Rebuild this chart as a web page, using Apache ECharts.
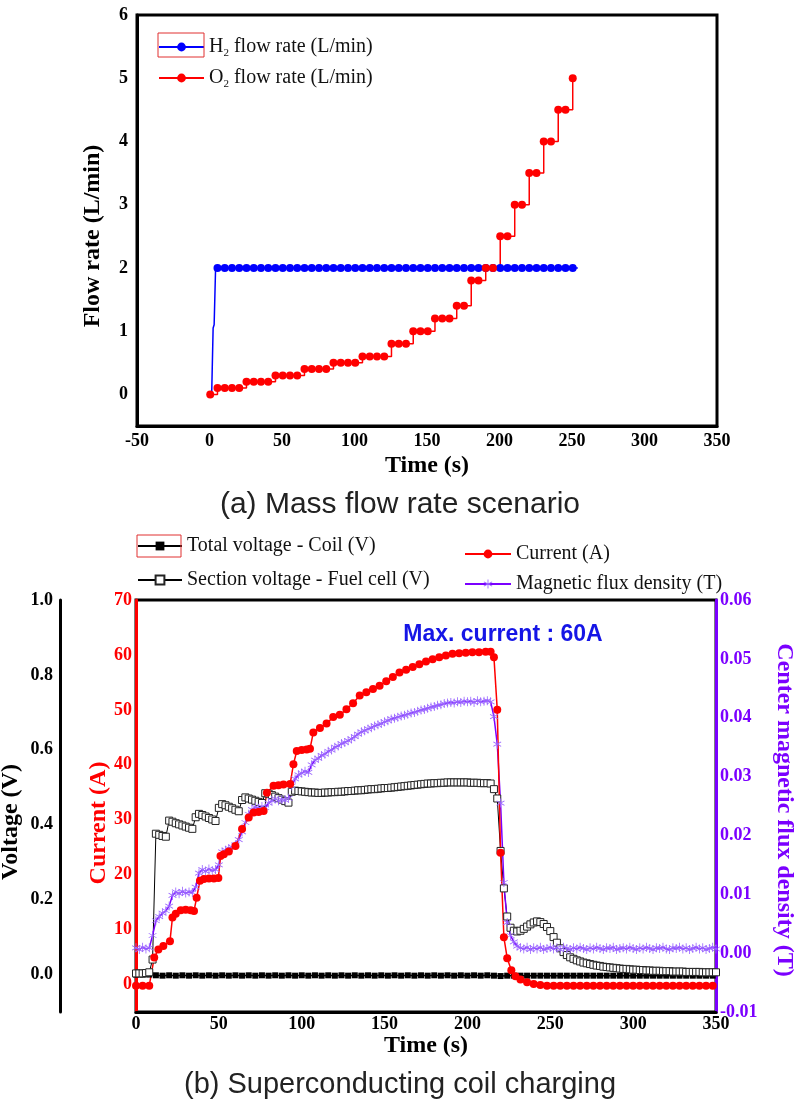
<!DOCTYPE html>
<html><head><meta charset="utf-8">
<script src="https://cdn.jsdelivr.net/npm/echarts@6/dist/echarts.min.js"></script>
<style>html,body{margin:0;padding:0;background:#fff}#c{width:800px;height:1108px}</style>
</head><body><div id="c"></div>
<script>
// ===== (a) Mass flow rate scenario =====
const flowXTicks = [-50, 0, 50, 100, 150, 200, 250, 300, 350];
const flowYTicks = [0, 1, 2, 3, 4, 5, 6];
const h2Time = [1.5, 2.5, 3.2, 4.2,
  5.5, 10.5, 15.5, 20.5, 25.5, 30.5, 35.5, 40.5, 45.5, 50.5,
  55.5, 60.5, 65.5, 70.5, 75.5, 80.5, 85.5, 90.5, 95.5, 100.5,
  105.5, 110.5, 115.5, 120.5, 125.5, 130.5, 135.5, 140.5, 145.5, 150.5,
  155.5, 160.5, 165.5, 170.5, 175.5, 180.5, 185.5, 190.5, 195.5, 200.5,
  205.5, 210.5, 215.5, 220.5, 225.5, 230.5, 235.5, 240.5, 245.5, 250.5,
  254];
const h2Flow = [0, 1.05, 1.1, 2,
  2, 2, 2, 2, 2, 2, 2, 2, 2, 2,
  2, 2, 2, 2, 2, 2, 2, 2, 2, 2,
  2, 2, 2, 2, 2, 2, 2, 2, 2, 2,
  2, 2, 2, 2, 2, 2, 2, 2, 2, 2,
  2, 2, 2, 2, 2, 2, 2, 2, 2, 2,
  2];
const o2Time = [0.5,
  5.5, 10.5, 15.5, 20.5, 25.5, 30.5, 35.5, 40.5, 45.5, 50.5,
  55.5, 60.5, 65.5, 70.5, 75.5, 80.5, 85.5, 90.5, 95.5, 100.5,
  105.5, 110.5, 115.5, 120.5, 125.5, 130.5, 135.5, 140.5, 145.5, 150.5,
  155.5, 160.5, 165.5, 170.5, 175.5, 180.5, 185.5, 190.5, 195.5, 200.5,
  205.5, 210.5, 215.5, 220.5, 225.5, 230.5, 235.5, 240.5, 245.5, 250.5];
const o2Flow = [0,
  0.1, 0.1, 0.1, 0.1, 0.2, 0.2, 0.2, 0.2, 0.3, 0.3,
  0.3, 0.3, 0.4, 0.4, 0.4, 0.4, 0.5, 0.5, 0.5, 0.5,
  0.6, 0.6, 0.6, 0.6, 0.8, 0.8, 0.8, 1.0, 1.0, 1.0,
  1.2, 1.2, 1.2, 1.4, 1.4, 1.8, 1.8, 2.0, 2.0, 2.5,
  2.5, 3.0, 3.0, 3.5, 3.5, 4.0, 4.0, 4.5, 4.5, 5.0];

// ===== (b) Superconducting coil charging =====
const coilXTicks = [0, 50, 100, 150, 200, 250, 300, 350];
const voltTicks = [0.0, 0.2, 0.4, 0.6, 0.8, 1.0];
const currentTicks = [0, 10, 20, 30, 40, 50, 60, 70];
const fluxTicks = [-0.01, 0.00, 0.01, 0.02, 0.03, 0.04, 0.05, 0.06];

// time base (s) for section voltage and flux density
const t2 = [0, 2, 4, 6, 8, 10, 12, 14, 16, 18,
  20, 22, 24, 26, 28, 30, 32, 34, 36, 38,
  40, 42, 44, 46, 48, 50, 52, 54, 56, 58,
  60, 62, 64, 66, 68, 70, 72, 74, 76, 78,
  80, 82, 84, 86, 88, 90, 92, 94, 96, 98,
  100, 102, 104, 106, 108, 110, 112, 114, 116, 118,
  120, 122, 124, 126, 128, 130, 132, 134, 136, 138,
  140, 142, 144, 146, 148, 150, 152, 154, 156, 158,
  160, 162, 164, 166, 168, 170, 172, 174, 176, 178,
  180, 182, 184, 186, 188, 190, 192, 194, 196, 198,
  200, 202, 204, 206, 208, 210, 212, 214, 216, 218,
  220, 222, 224, 226, 228, 230, 232, 234, 236, 238,
  240, 242, 244, 246, 248, 250, 252, 254, 256, 258,
  260, 262, 264, 266, 268, 270, 272, 274, 276, 278,
  280, 282, 284, 286, 288, 290, 292, 294, 296, 298,
  300, 302, 304, 306, 308, 310, 312, 314, 316, 318,
  320, 322, 324, 326, 328, 330, 332, 334, 336, 338,
  340, 342, 344, 346, 348, 350];
const sectionVoltage = [0.003, 0.003, 0.003, 0.004, 0.006, 0.040, 0.376, 0.373, 0.370, 0.368,
  0.411, 0.408, 0.404, 0.401, 0.398, 0.395, 0.392, 0.389, 0.420, 0.429,
  0.426, 0.422, 0.418, 0.414, 0.410, 0.445, 0.455, 0.452, 0.448, 0.444,
  0.440, 0.436, 0.466, 0.473, 0.470, 0.467, 0.464, 0.461, 0.458, 0.484,
  0.483, 0.479, 0.475, 0.471, 0.467, 0.463, 0.459, 0.488, 0.491, 0.490,
  0.489, 0.488, 0.487, 0.486, 0.486, 0.485, 0.485, 0.486, 0.486, 0.487,
  0.487, 0.488, 0.488, 0.489, 0.490, 0.490, 0.491, 0.492, 0.492, 0.493,
  0.494, 0.495, 0.495, 0.496, 0.497, 0.498, 0.498, 0.499, 0.500, 0.501,
  0.502, 0.503, 0.504, 0.505, 0.506, 0.507, 0.508, 0.509, 0.510, 0.510,
  0.511, 0.511, 0.512, 0.512, 0.513, 0.513, 0.513, 0.513, 0.513, 0.513,
  0.513, 0.512, 0.512, 0.512, 0.511, 0.511, 0.511, 0.510, 0.495, 0.470,
  0.330, 0.230, 0.155, 0.125, 0.117, 0.115, 0.117, 0.122, 0.128, 0.134,
  0.139, 0.142, 0.140, 0.135, 0.127, 0.116, 0.100, 0.085, 0.070, 0.060,
  0.052, 0.046, 0.042, 0.038, 0.035, 0.032, 0.030, 0.028, 0.026, 0.024,
  0.023, 0.021, 0.020, 0.019, 0.018, 0.017, 0.016, 0.015, 0.015, 0.014,
  0.013, 0.013, 0.012, 0.012, 0.011, 0.011, 0.010, 0.010, 0.010, 0.009,
  0.009, 0.009, 0.008, 0.008, 0.008, 0.008, 0.007, 0.007, 0.007, 0.007,
  0.007, 0.006, 0.006, 0.006, 0.006, 0.006];
const fluxDensity = [0.0009, 0.0006, 0.0010, 0.0007, 0.0009, 0.0030, 0.0055, 0.0062, 0.0068, 0.0072,
  0.0080, 0.0098, 0.0104, 0.0101, 0.0105, 0.0102, 0.0104, 0.0103, 0.0112, 0.0136,
  0.0142, 0.0139, 0.0143, 0.0140, 0.0142, 0.0150, 0.0172, 0.0175, 0.0178, 0.0180,
  0.0184, 0.0193, 0.0206, 0.0222, 0.0236, 0.0244, 0.0248, 0.0246, 0.0249, 0.0247,
  0.0255, 0.0259, 0.0262, 0.0259, 0.0261, 0.0260, 0.0263, 0.0284, 0.0296, 0.0303,
  0.0306, 0.0309, 0.0307, 0.0320, 0.0328, 0.0331, 0.0336, 0.0338, 0.0343, 0.0345,
  0.0350, 0.0352, 0.0356, 0.0358, 0.0361, 0.0364, 0.0368, 0.0372, 0.0376, 0.0378,
  0.0381, 0.0383, 0.0386, 0.0388, 0.0390, 0.0393, 0.0395, 0.0398, 0.0399, 0.0401,
  0.0403, 0.0404, 0.0406, 0.0408, 0.0409, 0.0411, 0.0413, 0.0414, 0.0416, 0.0418,
  0.0419, 0.0421, 0.0422, 0.0424, 0.0425, 0.0426, 0.0425, 0.0427, 0.0426, 0.0428,
  0.0427, 0.0428, 0.0426, 0.0429, 0.0427, 0.0428, 0.0429, 0.0427, 0.0402, 0.0355,
  0.0255, 0.0120, 0.0052, 0.0030, 0.0019, 0.0012, 0.0009, 0.0007, 0.0010, 0.0006,
  0.0009, 0.0007, 0.0010, 0.0006, 0.0008, 0.0010, 0.0007, 0.0009, 0.0006, 0.0010,
  0.0008, 0.0006, 0.0009, 0.0007, 0.0010, 0.0008, 0.0006, 0.0009, 0.0007, 0.0010,
  0.0008, 0.0006, 0.0009, 0.0008, 0.0010, 0.0006, 0.0008, 0.0009, 0.0007, 0.0010,
  0.0008, 0.0006, 0.0009, 0.0007, 0.0010, 0.0008, 0.0006, 0.0009, 0.0008, 0.0010,
  0.0007, 0.0006, 0.0009, 0.0008, 0.0010, 0.0007, 0.0009, 0.0006, 0.0008, 0.0010,
  0.0007, 0.0009, 0.0006, 0.0008, 0.0010, 0.0007];
// time base (s) for total coil voltage
const t4 = [0, 4, 8, 12, 16, 20, 24, 28, 32, 36,
  40, 44, 48, 52, 56, 60, 64, 68, 72, 76,
  80, 84, 88, 92, 96, 100, 104, 108, 112, 116,
  120, 124, 128, 132, 136, 140, 144, 148, 152, 156,
  160, 164, 168, 172, 176, 180, 184, 188, 192, 196,
  200, 204, 208, 212, 216, 220, 224, 228, 232, 236,
  240, 244, 248, 252, 256, 260, 264, 268, 272, 276,
  280, 284, 288, 292, 296, 300, 304, 308, 312, 316,
  320, 324, 328, 332, 336, 340, 344, 348];
const totalVoltage = [0.000, 0.000, 0.000, -0.002, -0.003, -0.002, -0.003, -0.002, -0.003, -0.002,
  -0.003, -0.002, -0.003, -0.002, -0.003, -0.002, -0.003, -0.002, -0.003, -0.002,
  -0.003, -0.002, -0.003, -0.002, -0.003, -0.002, -0.003, -0.002, -0.003, -0.002,
  -0.003, -0.002, -0.003, -0.002, -0.003, -0.002, -0.003, -0.002, -0.003, -0.002,
  -0.003, -0.002, -0.003, -0.002, -0.003, -0.002, -0.003, -0.002, -0.003, -0.002,
  -0.003, -0.002, -0.003, -0.002, -0.003, -0.004, -0.003, -0.003, -0.003, -0.003,
  -0.003, -0.003, -0.003, -0.003, -0.003, -0.003, -0.003, -0.003, -0.003, -0.003,
  -0.003, -0.003, -0.003, -0.003, -0.003, -0.003, -0.003, -0.003, -0.003, -0.003,
  -0.003, -0.003, -0.003, -0.003, -0.003, -0.003, -0.003, -0.003];
const currentTime = [0, 4, 8, 11, 13.5, 16.5, 20.5, 22, 24, 27,
  30, 33, 35, 36.6, 38.6, 41, 44, 47, 49.7, 51,
  53, 56, 60, 64, 68, 71, 74, 77, 79, 83,
  86, 89, 93, 95, 97, 100, 103, 105, 107, 111,
  115, 119, 123, 127, 131, 135, 139, 143, 147, 151,
  155, 159, 163, 167, 171, 175, 179, 183, 187, 191,
  195, 199, 203, 207, 211, 214, 216, 218, 220, 222,
  224, 226.5, 229, 232, 236, 240, 244, 248, 252, 256,
  260, 264, 268, 272, 276, 280, 284, 288, 292, 296,
  300, 304, 308, 312, 316, 320, 324, 328, 332, 336,
  340, 344, 348];
const currentA = [-0.2, -0.2, -0.2, 4.9, 6.4, 7.0, 7.9, 12.2, 12.9, 13.5,
  13.6, 13.5, 13.4, 15.8, 18.9, 19.2, 19.3, 19.3, 19.4, 23.4,
  23.7, 24.2, 25.2, 28.3, 30.4, 31.3, 31.4, 31.6, 34.9, 36.2,
  36.3, 36.4, 36.5, 40.1, 42.5, 42.7, 42.8, 42.9, 45.9, 46.7,
  47.5, 48.7, 49.1, 50.1, 51.2, 52.6, 53.2, 53.8, 54.4, 55.2,
  56.0, 56.8, 57.3, 57.8, 58.3, 58.8, 59.2, 59.6, 59.9, 60.2,
  60.3, 60.4, 60.5, 60.5, 60.6, 60.6, 59.6, 50.0, 24.0, 8.6,
  4.8, 2.6, 1.5, 0.9, 0.4, 0.1, -0.1, -0.2, -0.2, -0.2,
  -0.2, -0.2, -0.2, -0.2, -0.2, -0.2, -0.2, -0.2, -0.2, -0.2,
  -0.2, -0.2, -0.2, -0.2, -0.2, -0.2, -0.2, -0.2, -0.2, -0.2,
  -0.2, -0.2, -0.2];

// ===== build =====
const zip = (xs, ys) => xs.map((x, i) => [x, ys[i]]);
const SERIF = '"Liberation Serif", "Times New Roman", serif';
const SANS = '"Liberation Sans", Arial, sans-serif';
const PURPLE = '#7b00ff';
const RED = '#ff0000';
const near = (a, b) => Math.abs(a - b) < 1e-6;
const lbl = (color, margin) => ({ fontFamily: SERIF, fontWeight: 'bold', fontSize: 18, color: color, margin: margin });
const asterisk = 'path://M-0.9,-10L0.9,-10L0.9,10L-0.9,10Z M8.21,-5.78L9.11,-4.22L-8.21,5.78L-9.11,4.22Z M9.11,4.22L8.21,5.78L-9.11,-4.22L-8.21,-5.78Z';

const h2Data = h2Time.map((t, i) => (t < 5 || t > 252) ? { value: [t, h2Flow[i]], symbol: 'none' } : [t, h2Flow[i]]);

const chart = echarts.init(document.getElementById('c'), null, { renderer: 'canvas' });
chart.setOption({
  animation: false,
  backgroundColor: '#fff',
  grid: [
    { left: 137, top: 15, width: 580, height: 411, show: true, borderColor: '#000', borderWidth: 3, backgroundColor: 'transparent' },
    { left: 136, top: 600, width: 580, height: 412, show: true, borderColor: '#000', borderWidth: 3, backgroundColor: 'transparent' }
  ],
  xAxis: [
    { gridIndex: 0, type: 'value', min: flowXTicks[0], max: flowXTicks[flowXTicks.length - 1], interval: 50,
      axisLine: { onZero: false, lineStyle: { color: '#000', width: 3 } }, axisTick: { show: false }, splitLine: { show: false },
      axisLabel: lbl('#000', 6) },
    { gridIndex: 1, type: 'value', min: coilXTicks[0], max: coilXTicks[coilXTicks.length - 1], interval: 50,
      axisLine: { onZero: false, lineStyle: { color: '#000', width: 3 } }, axisTick: { show: false }, splitLine: { show: false },
      axisLabel: lbl('#000', 3) }
  ],
  yAxis: [
    { gridIndex: 0, type: 'value', min: -0.5, max: flowYTicks[flowYTicks.length - 1], interval: 0.5,
      axisLine: { onZero: false, lineStyle: { color: '#000', width: 3 } }, axisTick: { show: false }, splitLine: { show: false },
      axisLabel: Object.assign(lbl('#000', 9), { formatter: v => flowYTicks.some(t => near(t, v)) ? String(Math.round(v)) : '' }) },
    { gridIndex: 1, type: 'value', position: 'left', offset: 76, min: -0.1, max: 1.0, interval: 0.1,
      axisLine: { show: true, onZero: false, lineStyle: { color: '#000', width: 3 } }, axisTick: { show: false }, splitLine: { show: false },
      axisLabel: Object.assign(lbl('#000', 7), { formatter: v => voltTicks.some(t => near(t, v)) ? v.toFixed(1) : '' }) },
    { gridIndex: 1, type: 'value', position: 'left', min: -5, max: 70, interval: 5,
      axisLine: { show: true, onZero: false, lineStyle: { color: RED, width: 3 } }, axisTick: { show: false }, splitLine: { show: false },
      axisLabel: Object.assign(lbl(RED, 4), { formatter: v => currentTicks.some(t => near(t, v)) ? String(Math.round(v)) : '' }) },
    { gridIndex: 1, type: 'value', position: 'right', min: -0.01, max: 0.06, interval: 0.01,
      axisLine: { show: true, onZero: false, lineStyle: { color: PURPLE, width: 3 } }, axisTick: { show: false }, splitLine: { show: false },
      axisLabel: Object.assign(lbl(PURPLE, 4), { formatter: v => fluxTicks.some(t => near(t, v)) ? v.toFixed(2) : '' }) }
  ],
  legend: [
    { orient: 'vertical', left: 158, top: 37, padding: 0, itemWidth: 45, itemHeight: 11, itemGap: 9,
      data: ['H2 flow rate (L/min)', 'O2 flow rate (L/min)'],
      formatter: n => '{n|' + n[0] + '}{s|2}{n|' + n.slice(2) + '}',
      textStyle: { rich: {
        n: { fontFamily: SERIF, fontSize: 20, color: '#111', lineHeight: 24 },
        s: { fontFamily: SERIF, fontSize: 11, color: '#111', lineHeight: 11, verticalAlign: 'bottom' } } } },
    { orient: 'vertical', left: 137, top: 535, padding: 0, itemWidth: 44, itemHeight: 11, itemGap: 12,
      data: ['Total voltage - Coil (V)', 'Section voltage - Fuel cell (V)'],
      textStyle: { fontFamily: SERIF, fontSize: 20, color: '#111', lineHeight: 22 } },
    { orient: 'vertical', left: 464, top: 543, padding: 0, itemWidth: 46, itemHeight: 11, itemGap: 8,
      data: ['Current (A)', 'Magnetic flux density (T)'],
      textStyle: { fontFamily: SERIF, fontSize: 20, color: '#111', lineHeight: 22 } }
  ],
  series: [
    { name: 'H2 flow rate (L/min)', type: 'line', xAxisIndex: 0, yAxisIndex: 0, data: h2Data,
      symbol: 'circle', symbolSize: 8, showAllSymbol: true,
      lineStyle: { color: '#0000ff', width: 1.5 }, itemStyle: { color: '#0000ff' } },
    { name: 'O2 flow rate (L/min)', type: 'line', xAxisIndex: 0, yAxisIndex: 0, data: zip(o2Time, o2Flow),
      step: 'end', symbol: 'circle', symbolSize: 8, showAllSymbol: true,
      lineStyle: { color: '#ff0000', width: 1.5 }, itemStyle: { color: '#ff0000' } },
    { name: 'Total voltage - Coil (V)', type: 'line', xAxisIndex: 1, yAxisIndex: 1, data: zip(t4, totalVoltage),
      symbol: 'rect', symbolSize: 6, showAllSymbol: true,
      lineStyle: { color: '#000', width: 1.5 }, itemStyle: { color: '#000' } },
    { name: 'Section voltage - Fuel cell (V)', type: 'line', xAxisIndex: 1, yAxisIndex: 1, data: zip(t2, sectionVoltage),
      symbol: 'rect', symbolSize: 7, showAllSymbol: true,
      lineStyle: { color: '#000', width: 1 }, itemStyle: { color: '#fff', borderColor: '#222', borderWidth: 1 } },
    { name: 'Magnetic flux density (T)', type: 'line', xAxisIndex: 1, yAxisIndex: 3, data: zip(t2, fluxDensity),
      symbol: asterisk, symbolSize: 9, symbolKeepAspect: true, showAllSymbol: true,
      lineStyle: { color: PURPLE, width: 1.5 }, itemStyle: { color: '#9a66ff' } },
    { name: 'Current (A)', type: 'line', xAxisIndex: 1, yAxisIndex: 2, data: zip(currentTime, currentA),
      symbol: 'circle', symbolSize: 8, showAllSymbol: true,
      lineStyle: { color: RED, width: 1.5 }, itemStyle: { color: RED } }
  ],
  graphic: [
    { type: 'rect', shape: { x: 158, y: 33, width: 46, height: 24 }, style: { fill: 'none', stroke: '#e03030', lineWidth: 1 }, z: 100 },
    { type: 'rect', shape: { x: 137, y: 535, width: 44, height: 22 }, style: { fill: 'none', stroke: '#e03030', lineWidth: 1 }, z: 100 },
    { type: 'text', x: 93, y: 236, rotation: Math.PI / 2, style: { text: 'Flow rate (L/min)', font: 'bold 24px ' + SERIF, fill: '#000', align: 'center', verticalAlign: 'middle' } },
    { type: 'text', x: 427, y: 466, style: { text: 'Time (s)', font: 'bold 24px ' + SERIF, fill: '#000', align: 'center', verticalAlign: 'middle' } },
    { type: 'text', x: 400, y: 505, style: { text: '(a) Mass flow rate scenario', font: '30px ' + SANS, fill: '#222', align: 'center', verticalAlign: 'middle' } },
    { type: 'text', x: 503, y: 635, style: { text: 'Max. current : 60A', font: 'bold 23px ' + SANS, fill: '#1515e6', align: 'center', verticalAlign: 'middle' } },
    { type: 'text', x: 11, y: 822, rotation: Math.PI / 2, style: { text: 'Voltage (V)', font: 'bold 24px ' + SERIF, fill: '#000', align: 'center', verticalAlign: 'middle' } },
    { type: 'text', x: 99, y: 823, rotation: Math.PI / 2, style: { text: 'Current (A)', font: 'bold 24px ' + SERIF, fill: RED, align: 'center', verticalAlign: 'middle' } },
    { type: 'text', x: 784, y: 810, rotation: -Math.PI / 2, style: { text: 'Center magnetic flux density (T)', font: 'bold 24px ' + SERIF, fill: PURPLE, align: 'center', verticalAlign: 'middle' } },
    { type: 'text', x: 426, y: 1046, style: { text: 'Time (s)', font: 'bold 24px ' + SERIF, fill: '#000', align: 'center', verticalAlign: 'middle' } },
    { type: 'text', x: 400, y: 1085, style: { text: '(b) Superconducting coil charging', font: '29px ' + SANS, fill: '#222', align: 'center', verticalAlign: 'middle' } }
  ]
});
</script>
</body></html>
